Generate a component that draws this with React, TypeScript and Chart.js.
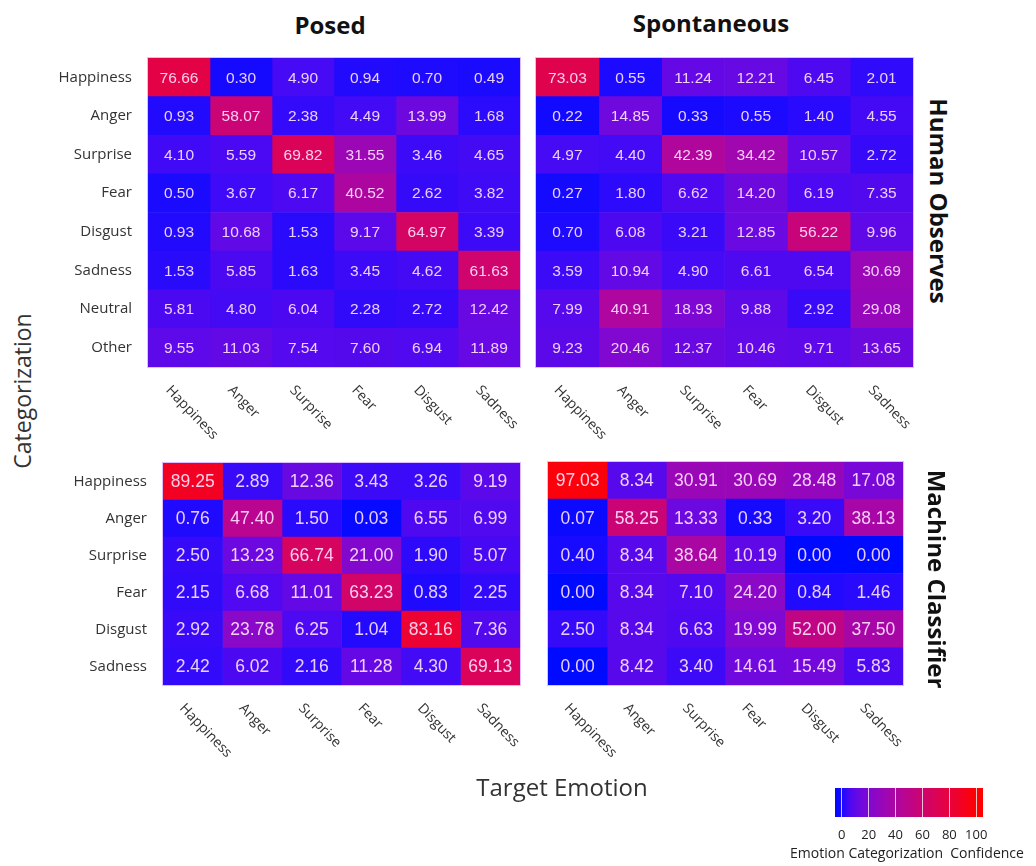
import React, { useEffect, useRef } from "react";
import { Chart, registerables } from "chart.js";

Chart.register(...registerables);

const TARGETS = ["Happiness", "Anger", "Surprise", "Fear", "Disgust", "Sadness"];
const HUMAN_ROWS = ["Happiness", "Anger", "Surprise", "Fear", "Disgust", "Sadness", "Neutral", "Other"];
const MACHINE_ROWS = ["Happiness", "Anger", "Surprise", "Fear", "Disgust", "Sadness"];

const POSED_HUMAN = [
  [76.66, 0.3, 4.9, 0.94, 0.7, 0.49],
  [0.93, 58.07, 2.38, 4.49, 13.99, 1.68],
  [4.1, 5.59, 69.82, 31.55, 3.46, 4.65],
  [0.5, 3.67, 6.17, 40.52, 2.62, 3.82],
  [0.93, 10.68, 1.53, 9.17, 64.97, 3.39],
  [1.53, 5.85, 1.63, 3.45, 4.62, 61.63],
  [5.81, 4.8, 6.04, 2.28, 2.72, 12.42],
  [9.55, 11.03, 7.54, 7.6, 6.94, 11.89],
];
const SPONT_HUMAN = [
  [73.03, 0.55, 11.24, 12.21, 6.45, 2.01],
  [0.22, 14.85, 0.33, 0.55, 1.4, 4.55],
  [4.97, 4.4, 42.39, 34.42, 10.57, 2.72],
  [0.27, 1.8, 6.62, 14.2, 6.19, 7.35],
  [0.7, 6.08, 3.21, 12.85, 56.22, 9.96],
  [3.59, 10.94, 4.9, 6.61, 6.54, 30.69],
  [7.99, 40.91, 18.93, 9.88, 2.92, 29.08],
  [9.23, 20.46, 12.37, 10.46, 9.71, 13.65],
];
const POSED_MACHINE = [
  [89.25, 2.89, 12.36, 3.43, 3.26, 9.19],
  [0.76, 47.4, 1.5, 0.03, 6.55, 6.99],
  [2.5, 13.23, 66.74, 21.0, 1.9, 5.07],
  [2.15, 6.68, 11.01, 63.23, 0.83, 2.25],
  [2.92, 23.78, 6.25, 1.04, 83.16, 7.36],
  [2.42, 6.02, 2.16, 11.28, 4.3, 69.13],
];
const SPONT_MACHINE = [
  [97.03, 8.34, 30.91, 30.69, 28.48, 17.08],
  [0.07, 58.25, 13.33, 0.33, 3.2, 38.13],
  [0.4, 8.34, 38.64, 10.19, 0.0, 0.0],
  [0.0, 8.34, 7.1, 24.2, 0.84, 1.46],
  [2.5, 8.34, 6.63, 19.99, 52.0, 37.5],
  [0.0, 8.42, 3.4, 14.61, 15.49, 5.83],
];

const CB_RANGE = [-5, 105];
const CB_TICKS = [0, 20, 40, 60, 80, 100];

const SANS = "'Open Sans', sans-serif";
const NUM = "'Liberation Sans', Arial, sans-serif";

function heat(v: number): string {
  const t = Math.max(0, Math.min(1, v / 100));
  const r = Math.round(255 * Math.pow(t, 0.43));
  const b = Math.round(255 * Math.pow(1 - t, 0.9));
  const g = Math.round(10 * (1 - t));
  return `rgb(${r},${g},${b})`;
}

type Panel = {
  rows: string[];
  values: number[][];
  left: number;
  top: number;
  w: number;
  h: number;
  showY: boolean;
  numSize: number;
};

const PANELS: Panel[] = [
  { rows: HUMAN_ROWS, values: POSED_HUMAN, left: 148, top: 58, w: 372, h: 309, showY: true, numSize: 15.5 },
  { rows: HUMAN_ROWS, values: SPONT_HUMAN, left: 536, top: 58, w: 377, h: 309, showY: false, numSize: 15.5 },
  { rows: MACHINE_ROWS, values: POSED_MACHINE, left: 163, top: 463, w: 357, h: 222, showY: true, numSize: 17.5 },
  { rows: MACHINE_ROWS, values: SPONT_MACHINE, left: 548, top: 462, w: 355, h: 223, showY: false, numSize: 17.5 },
];

const LPAD = 110;
const PAD = 5;
const BPAD = 95;

function makePanel(canvas: HTMLCanvasElement, p: Panel) {
  const cellText = {
    id: "cellText",
    afterDatasetsDraw(chart: any) {
      const ctx = chart.ctx;
      ctx.save();
      ctx.font = `${p.numSize}px ${NUM}`;
      ctx.textAlign = "center";
      ctx.textBaseline = "middle";
      ctx.fillStyle = "rgba(255,228,255,0.9)";
      chart.data.datasets.forEach((_: any, c: number) => {
        const meta = chart.getDatasetMeta(c);
        meta.data.forEach((el: any, r: number) => {
          const { x, y, base } = el.getProps(["x", "y", "base"], true);
          ctx.fillText(p.values[r][c].toFixed(2), (x + base) / 2, y + 1);
        });
      });
      ctx.restore();
    },
  };
  const xLabels = {
    id: "xLabels",
    afterDraw(chart: any) {
      const ctx = chart.ctx;
      const xs = chart.scales.x;
      const bottom = chart.chartArea.bottom;
      ctx.save();
      ctx.font = `14px ${SANS}`;
      ctx.fillStyle = "#333";
      ctx.textAlign = "left";
      ctx.textBaseline = "middle";
      TARGETS.forEach((t, c) => {
        const px = xs.getPixelForValue(c + 0.5);
        ctx.save();
        ctx.translate(px - 11, bottom + 21);
        ctx.rotate((46 * Math.PI) / 180);
        ctx.fillText(t, 0, 0);
        ctx.restore();
      });
      ctx.restore();
    },
  };
  const frame = {
    id: "frame",
    afterDatasetsDraw(chart: any) {
      const a = chart.chartArea;
      const ctx = chart.ctx;
      ctx.save();
      ctx.strokeStyle = "rgba(215,170,255,0.8)";
      ctx.lineWidth = 1;
      ctx.strokeRect(a.left - 0.5, a.top - 0.5, a.right - a.left + 1, a.bottom - a.top + 1);
      ctx.restore();
    },
  };
  const yScale: any = {
    type: "category",
    display: p.showY,
    grid: { display: false, drawTicks: false },
    border: { display: false },
    ticks: { padding: 16, color: "#333", font: { family: SANS, size: 15 } },
  };
  if (p.showY) {
    yScale.afterFit = (s: any) => {
      s.width = LPAD;
      s.paddingTop = 0;
      s.paddingBottom = 0;
    };
  }
  return new Chart(canvas, {
    type: "bar",
    data: {
      labels: p.rows,
      datasets: TARGETS.map((t, c) => ({
        label: t,
        data: p.rows.map(() => [c, c + 1]),
        backgroundColor: p.rows.map((_, r) => heat(p.values[r][c])),
        borderWidth: 0,
        grouped: false,
        barPercentage: 1,
        categoryPercentage: 1,
      })) as any,
    },
    options: {
      indexAxis: "y",
      responsive: false,
      maintainAspectRatio: false,
      animation: false,
      layout: { padding: { left: p.showY ? 0 : PAD, right: PAD, top: PAD, bottom: BPAD } },
      plugins: { legend: { display: false }, tooltip: { enabled: false } },
      scales: {
        x: { type: "linear", min: 0, max: 6, display: false },
        y: yScale,
      },
    } as any,
    plugins: [cellText, xLabels, frame],
  });
}

function makeColorbar(canvas: HTMLCanvasElement) {
  return new Chart(canvas, {
    type: "bar",
    data: {
      labels: ["scale"],
      datasets: [
        {
          data: [CB_RANGE],
          backgroundColor: (ctx: any) => {
            const area = ctx.chart.chartArea;
            if (!area) return "#00f";
            const g = ctx.chart.ctx.createLinearGradient(area.left, 0, area.right, 0);
            for (let i = 0; i <= 20; i++) {
              const s = i / 20;
              g.addColorStop(s, heat(CB_RANGE[0] + s * (CB_RANGE[1] - CB_RANGE[0])));
            }
            return g;
          },
          borderWidth: 0,
          barPercentage: 1,
          categoryPercentage: 1,
        },
      ] as any,
    },
    options: {
      indexAxis: "y",
      responsive: false,
      maintainAspectRatio: false,
      animation: false,
      layout: { padding: { left: 5, right: 12, top: 5, bottom: 0 } },
      plugins: { legend: { display: false }, tooltip: { enabled: false } },
      scales: {
        y: { type: "category", display: false },
        x: {
          type: "linear",
          min: CB_RANGE[0],
          max: CB_RANGE[1],
          afterBuildTicks: (s: any) => {
            s.ticks = CB_TICKS.map((v) => ({ value: v }));
          },
          grid: { color: "rgba(255,255,255,0.75)", z: 1, drawTicks: false },
          border: { display: false },
          ticks: { padding: 10, color: "#222", font: { family: SANS, size: 13 } },
          afterFit: (s: any) => {
            s.height = 30;
            s.paddingLeft = 0;
            s.paddingRight = 0;
          },
        },
      },
    } as any,
  });
}

function Label(props: { x: number; y: number; text: string; size: number; bold?: boolean; rot?: number; color?: string; spacing?: number }) {
  return (
    <div
      style={{
        position: "absolute",
        left: props.x,
        top: props.y,
        transform: `translate(-50%, -50%) rotate(${props.rot || 0}deg)`,
        fontFamily: SANS,
        fontSize: props.size,
        fontWeight: props.bold ? 700 : 400,
        color: props.color || "#111",
        whiteSpace: "pre",
        lineHeight: 1,
        wordSpacing: props.spacing || 0,
      }}
    >
      {props.text}
    </div>
  );
}

export default function App() {
  const refs = [useRef<HTMLCanvasElement>(null), useRef<HTMLCanvasElement>(null), useRef<HTMLCanvasElement>(null), useRef<HTMLCanvasElement>(null)];
  const cbRef = useRef<HTMLCanvasElement>(null);

  useEffect(() => {
    const charts: Chart[] = [];
    PANELS.forEach((p, i) => {
      if (refs[i].current) charts.push(makePanel(refs[i].current as HTMLCanvasElement, p));
    });
    if (cbRef.current) charts.push(makeColorbar(cbRef.current));
    return () => charts.forEach((c) => c.destroy());
  }, []);

  return (
    <div style={{ position: "absolute", left: 0, top: 0, width: 1036, height: 866, background: "#fff", overflow: "hidden" }}>
      {PANELS.map((p, i) => {
        const lp = p.showY ? LPAD : PAD;
        const cw = p.w + lp + PAD;
        const ch = p.h + PAD + BPAD;
        return (
          <canvas
            key={i}
            ref={refs[i]}
            width={cw}
            height={ch}
            style={{ position: "absolute", left: p.left - lp, top: p.top - PAD, width: cw, height: ch }}
          />
        );
      })}
      <canvas ref={cbRef} width={165} height={64} style={{ position: "absolute", left: 830, top: 783, width: 165, height: 64 }} />
      <Label x={330} y={25} text="Posed" size={24} bold />
      <Label x={711} y={23} text="Spontaneous" size={24} bold />
      <Label x={939} y={201} text="Human Observes" size={24} bold rot={90} />
      <Label x={937} y={579} text="Machine Classifier" size={24} bold rot={90} />
      <Label x={22} y={391} text="Categorization" size={23} rot={-90} color="#333" />
      <Label x={562} y={787} text="Target Emotion" size={24} color="#333" />
      <Label x={907} y={853} text="Emotion Categorization  Confidence" size={14} color="#222" spacing={0} />
    </div>
  );
}
